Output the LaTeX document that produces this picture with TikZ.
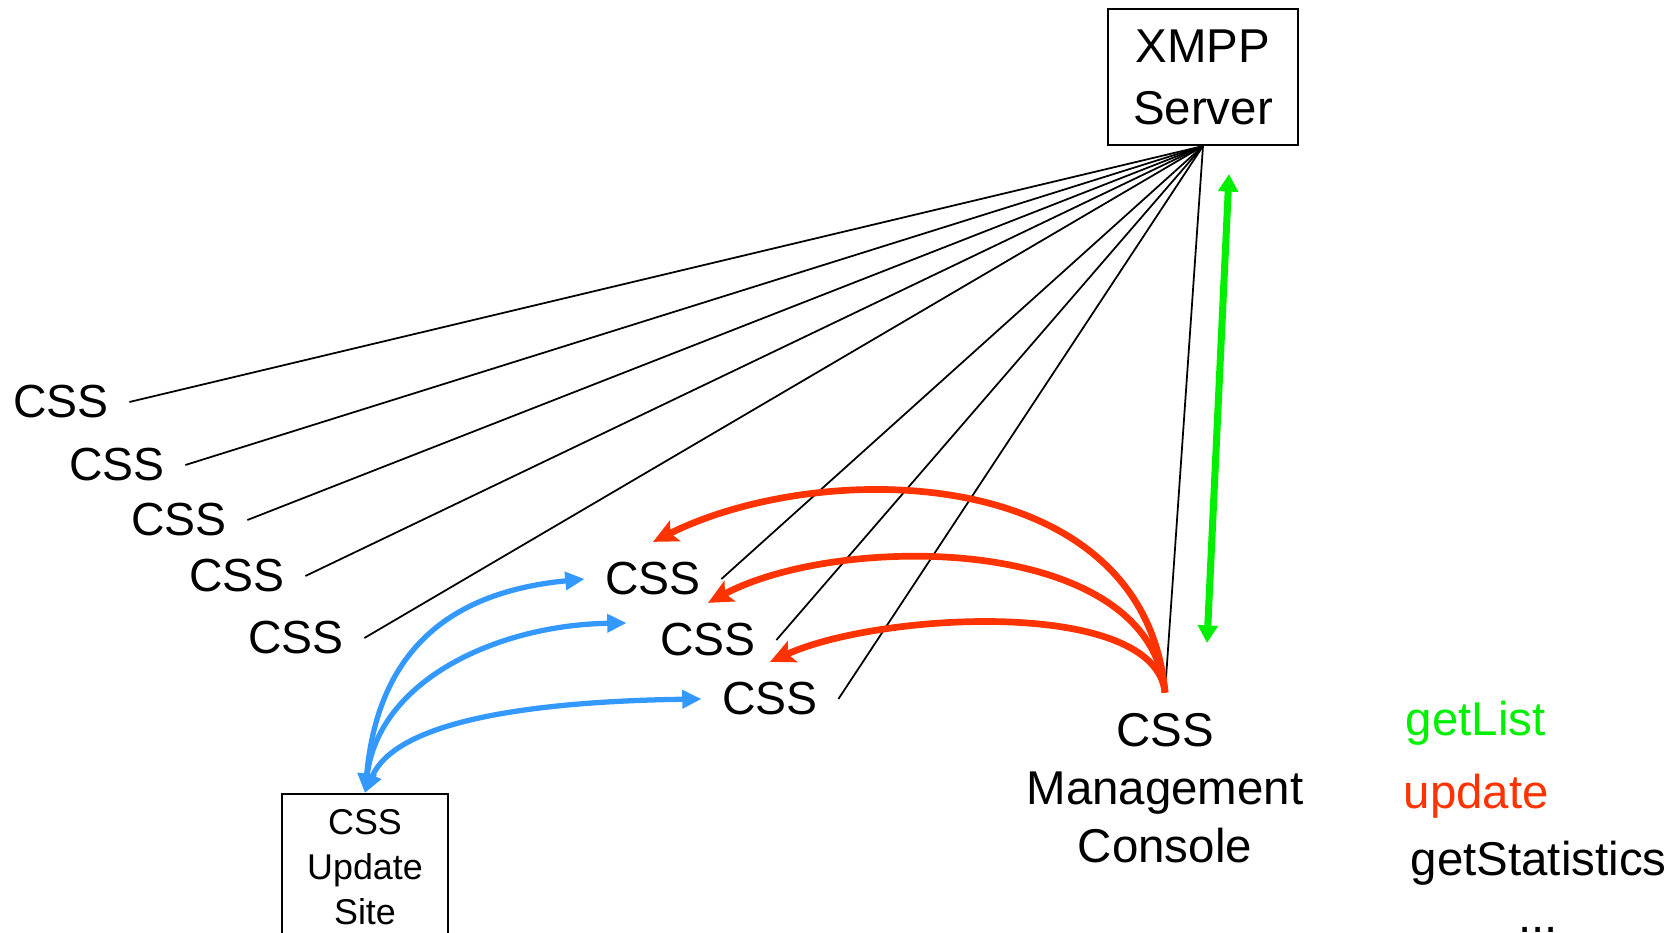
\documentclass[tikz,border=0pt]{standalone}
\usepackage{fontspec}
\setmainfont{Liberation Sans}
\usetikzlibrary{arrows.meta}
\definecolor{getgreen}{RGB}{0,240,0}
\definecolor{updred}{RGB}{255,51,0}
\definecolor{siteblue}{RGB}{51,153,255}

\begin{document}
\begin{tikzpicture}[
  css/.style={inner sep=0.2cm, font=\fontsize{13.2}{16}\selectfont},
  box/.style={draw, semithick, align=center},
  conn/.style={line width=0.5pt},
  upd/.style={updred, line width=1.9pt, -{Stealth[length=7pt,width=6.5pt,inset=1.5pt]}},
  inst/.style={siteblue, line width=1.5pt, {Triangle[length=5.5pt,width=5pt]}-{Triangle[length=5.5pt,width=5pt]}},
  lst/.style={getgreen, line width=2pt, {Triangle[length=5pt,width=5.5pt]}-{Triangle[length=5pt,width=5.5pt]}},
  legend/.style={inner sep=0, font=\fontsize{13.5}{16}\selectfont}
]
  \useasboundingbox (0,0) rectangle (16.74,-9.33);

  % サーバ
  \node[box, minimum width=1.9cm, minimum height=1.36cm, font=\fontsize{13.5}{17.6}\selectfont] (xmpp) at (12.03,-0.77) {XMPP\\Server};

  % CSS（左）
  \node[css] (l1) at (0.61,-4.02) {CSS};
  \node[css] (l2) at (1.17,-4.65) {CSS};
  \node[css] (l3) at (1.79,-5.20) {CSS};
  \node[css] (l4) at (2.37,-5.76) {CSS};
  \node[css] (l5) at (2.96,-6.38) {CSS};

  % CSS（中央）
  \node[css] (m1) at (6.53,-5.79) {CSS};
  \node[css] (m2) at (7.08,-6.40) {CSS};
  \node[css] (m3) at (7.70,-6.99) {CSS};

  % 管理コンソール
  \node[css, align=center, font=\fontsize{13.5}{16.5}\selectfont] (mgmt) at (11.65,-7.88) {CSS\\Management\\Console};

  % アップデートサイト
  \node[box, anchor=north, minimum width=1.66cm, inner ysep=0.15cm, font=\fontsize{10.2}{12.8}\selectfont] (site) at (3.65,-7.93) {CSS\\Update\\Site};

  % 凡例
  \node[legend, text=getgreen, anchor=base west] (getlist) at (14.05,-7.35) {getList};
  \node[legend, text=updred, anchor=base west] (update) at (14.03,-8.08) {update};
  \node[legend, anchor=base west] (getstat) at (14.10,-8.75) {getStatistics};
  \node[legend, anchor=base] (more) at (15.38,-9.32) {...};

  % 接続線
  \foreach \n in {l1,l2,l3,l4,l5,m1,m2,m3}
    \draw[conn] (xmpp.south) -- (\n.east);
  \draw[conn] (xmpp.south) -- (mgmt.north);

  % update（赤）
  \draw[upd] (mgmt.north) .. controls +(-0.21,2.3) and +(1.7,0.85) .. (m1.north);
  \draw[upd] (mgmt.north) .. controls +(-0.15,1.6) and +(1.3,0.7) .. (m2.north);
  \draw[upd] (mgmt.north) .. controls +(-0.1,0.95) and +(1.1,0.5) .. (m3.north);

  % アップデートサイト（青）
  \draw[inst] (site.north) .. controls +(0.14,1.53) and +(-1.23,-0.12) .. (m1.west);
  \draw[inst] (site.north) .. controls +(0.14,1.13) and +(-1.29,-0.02) .. ([xshift=-0.13cm,yshift=0.17cm]m2.west);
  \draw[inst] (site.north) .. controls +(0.34,0.78) and +(-1.42,-0.02) .. (m3.west);

  % getList（緑）
  \coordinate (gtop) at (12.29,-1.74);
  \coordinate (gbot) at (12.07,-6.43);
  \draw[lst] (gtop) -- (gbot);
\end{tikzpicture}
\end{document}
